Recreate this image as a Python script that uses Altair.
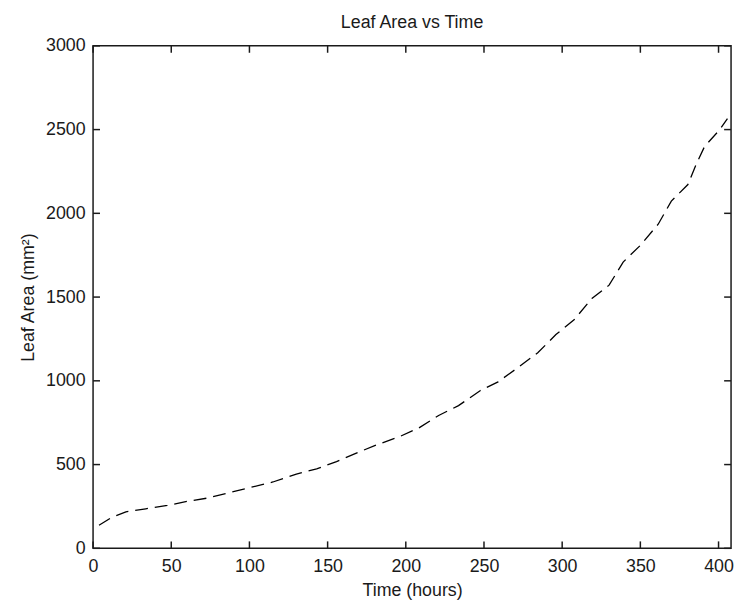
import altair as alt
import pandas as pd

# ---- data ----
hours = [3.8, 11.6, 21.0, 33.7, 47.5, 61.2, 73.8, 87.5, 101.0, 115.0, 125.5,
         130.0, 143.0, 155.7, 168.0, 181.0, 195.8, 208.4, 221.0, 233.7, 247.5,
         259.0, 271.7, 284.4, 296.0, 307.6, 319.0, 330.0, 339.0, 349.8, 361.4,
         369.8, 380.4, 385.6, 391.0, 400.4, 405.7]
leaf_area = [138, 183, 218, 236, 256, 282, 301, 333, 364, 396, 429,
             443, 474, 518, 567, 616, 666, 719, 793, 852, 941,
             994, 1079, 1168, 1276, 1364, 1492, 1571, 1709, 1807, 1935,
             2073, 2172, 2290, 2398, 2496, 2565]
x_ticks = [0, 50, 100, 150, 200, 250, 300, 350, 400]
y_ticks = [0, 500, 1000, 1500, 2000, 2500, 3000]
x_domain = [0, 408]
y_domain = [0, 3000]

W, H = 645, 508
TL = 7
FONT = "Liberation Sans"
INK = "#1a1a1a"

df = pd.DataFrame({"hours": hours, "area": leaf_area})
xdf = pd.DataFrame({"hours": x_ticks})
ydf = pd.DataFrame({"area": y_ticks})

xs = alt.Scale(domain=x_domain, nice=False, zero=False)
ys = alt.Scale(domain=y_domain, nice=False)

x_axis = alt.Axis(title="Time (hours)", values=x_ticks, format="d", labelFlush=False,
                  labelOverlap=False, labelPadding=9, titlePadding=7)
y_axis = alt.Axis(title="Leaf Area (mm²)", values=y_ticks, format="d", labelFlush=False,
                  labelOverlap=False, labelPadding=8, titlePadding=8)

line = alt.Chart(df).mark_line(color="black", strokeWidth=1.3, strokeDash=[13, 7]).encode(
    x=alt.X("hours:Q", scale=xs, axis=x_axis),
    y=alt.Y("area:Q", scale=ys, axis=y_axis),
)

tick_style = dict(color=INK, strokeWidth=1.5)
bottom = alt.Chart(xdf).mark_rule(**tick_style).encode(
    x=alt.X("hours:Q", scale=xs, axis=x_axis), y=alt.value(H), y2=alt.value(H - TL))
top = alt.Chart(xdf).mark_rule(**tick_style).encode(
    x=alt.X("hours:Q", scale=xs, axis=x_axis), y=alt.value(0), y2=alt.value(TL))
left = alt.Chart(ydf).mark_rule(**tick_style).encode(
    y=alt.Y("area:Q", scale=ys, axis=y_axis), x=alt.value(0), x2=alt.value(TL))
right = alt.Chart(ydf).mark_rule(**tick_style).encode(
    y=alt.Y("area:Q", scale=ys, axis=y_axis), x=alt.value(W), x2=alt.value(W - TL))

chart = alt.layer(line, bottom, top, left, right).properties(
    width=W, height=H,
    title=alt.TitleParams("Leaf Area vs Time", font=FONT, fontSize=18,
                          fontWeight="normal", color=INK, anchor="middle", offset=5),
    autosize=alt.AutoSizeParams(type="none"),
    padding={"left": 86, "top": 35, "right": 5, "bottom": 49},
).configure_view(
    stroke=INK, strokeWidth=1.5
).configure_axis(
    grid=False, domain=False, ticks=False,
    labelFont=FONT, titleFont=FONT, labelFontSize=18, titleFontSize=18,
    labelColor=INK, titleColor=INK, titleFontWeight="normal",
)

chart.save("out.html", embed_options={"renderer": "svg", "actions": False})
